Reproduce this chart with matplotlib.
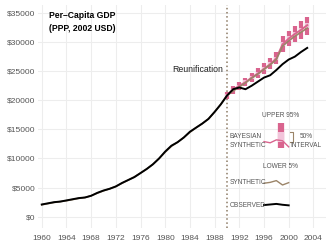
import matplotlib.pyplot as plt
import numpy as np

plt.rcParams['font.family'] = ['Liberation Sans', 'DejaVu Sans']

years = list(range(1960, 2004))
observed = [2.1, 2.3, 2.5, 2.6, 2.8, 3.0, 3.2, 3.3, 3.6, 4.1,
            4.5, 4.8, 5.2, 5.8, 6.3, 6.8, 7.5, 8.2, 9.0, 10.0,
            11.2, 12.2, 12.8, 13.6, 14.6, 15.3, 16.0, 16.8, 18.0, 19.3,
            20.8, 21.9, 22.2, 21.9, 22.5, 23.2, 23.9, 24.3, 25.2, 26.2,
            27.0, 27.5, 28.3, 29.0]
synthetic = [2.05, 2.25, 2.45, 2.6, 2.75, 2.95, 3.15, 3.3, 3.6, 4.05,
             4.45, 4.8, 5.2, 5.75, 6.3, 6.85, 7.5, 8.2, 9.0, 10.0,
             11.1, 12.1, 12.8, 13.6, 14.5, 15.3, 16.0, 16.8, 18.0, 19.3,
             20.8, 21.6, 22.3, 23.0, 23.8, 24.5, 25.3, 26.1, 27.0, 29.3,
             30.2, 31.0, 31.7, 32.4]

post_years = list(range(1990, 2004))
bayes_med = [20.9, 21.8, 22.5, 23.1, 23.9, 24.6, 25.4, 26.2, 27.2, 29.6,
             30.6, 31.4, 32.1, 32.9]
bayes_lo5 = [20.3, 21.1, 21.8, 22.4, 23.1, 23.8, 24.5, 25.3, 26.2, 28.3,
             29.3, 30.0, 30.6, 31.3]
bayes_hi95 = [21.5, 22.5, 23.2, 23.9, 24.7, 25.5, 26.4, 27.2, 28.3, 31.0,
              31.9, 32.8, 33.6, 34.3]
bayes_lo25 = [20.7, 21.6, 22.3, 22.9, 23.6, 24.4, 25.2, 26.0, 27.0, 29.3,
              30.2, 31.0, 31.7, 32.5]
bayes_hi75 = [21.1, 22.0, 22.7, 23.4, 24.2, 24.9, 25.7, 26.5, 27.5, 30.0,
              31.0, 31.8, 32.5, 33.3]

# legend samples
leg_x = [1996, 1997, 1998, 1999, 2000]
leg_bayes = [12.9, 12.7, 13.2, 13.05, 12.0]
leg_synth = [5.75, 5.9, 6.2, 5.45, 5.85]
leg_obs = [2.0, 2.1, 2.2, 2.05, 1.95]
leg_bar = [11.75, 12.9, 14.6, 16.05]  # 5%, 25%, 75%, 95%

pink = '#d9648e'
light_pink = '#f2c4da'
brown = '#9b8468'
grey = '#555555'

fig = plt.figure(figsize=(3.31, 2.5), dpi=100)
ax = fig.add_axes([0.115, 0.088, 0.87, 0.892])

k = lambda v: np.asarray(v) * 1000

ax.vlines(post_years, k(bayes_lo5), k(bayes_hi95), color=pink, lw=3.0, zorder=2)
ax.vlines(post_years, k(bayes_lo25), k(bayes_hi75), color=light_pink, lw=3.0, zorder=2)
ax.plot(post_years, k(bayes_med), color=pink, lw=1.4, zorder=3)
ax.plot(years, k(synthetic), color=brown, lw=1.2, zorder=4)
ax.plot(years, k(observed), color='black', lw=1.4, zorder=5)

ax.axvline(1990, color='#8c7a64', ls=(0, (1, 1.7)), lw=1.1, zorder=1)

# legend drawn in data space
ax.vlines(1998.7, k(leg_bar[0]), k(leg_bar[3]), color=pink, lw=4.5)
ax.vlines(1998.7, k(leg_bar[1]), k(leg_bar[2]), color=light_pink, lw=4.5)
ax.plot(leg_x, k(leg_bayes), color=pink, lw=1.0)
ax.plot(leg_x, k(leg_synth), color=brown, lw=1.0)
ax.plot(leg_x, k(leg_obs), color='black', lw=1.4)
small = dict(fontsize=4.7, color=grey)
ax.text(1990.4, 13000, 'BAYESIAN\nSYNTHETIC', va='center', ha='left', linespacing=1.4, **small)
ax.text(1990.4, 5850, 'SYNTHETIC', va='center', ha='left', **small)
ax.text(1990.4, 2000, 'OBSERVED', va='center', ha='left', **small)
ax.text(1998.7, 17400, 'UPPER 95%', va='center', ha='center', **small)
ax.text(1998.7, 8700, 'LOWER 5%', va='center', ha='center', **small)
ax.text(2002.8, 13000, '50%\nINTERVAL', va='center', ha='center', linespacing=1.4, **small)
ax.plot([2000.2, 2000.7, 2000.7, 2000.2], [k(leg_bar[2]), k(leg_bar[2]), k(leg_bar[1]), k(leg_bar[1])],
        color=brown, lw=0.8)

ax.text(1989.4, 25300, 'Reunification', ha='right', va='center', fontsize=6.3, color='#222222')
ax.text(1961.2, 35300, 'Per\u2013Capita GDP\n(PPP, 2002 USD)', ha='left', va='top',
        fontsize=6.2, fontweight='bold', linespacing=1.5)

ax.set_xlim(1959.4, 2006.05)
ax.set_ylim(-1940, 36370)
ax.set_xticks(range(1960, 2005, 4))
ax.set_yticks(range(0, 35001, 5000))
ax.set_yticklabels(['$%d' % v for v in range(0, 35001, 5000)])
ax.tick_params(length=0, labelsize=6, colors=grey, pad=5)
ax.tick_params(axis='y', pad=2)
ax.grid(color='#ededed', lw=0.8)
ax.set_axisbelow(True)
for s in ax.spines.values():
    s.set_visible(False)

plt.savefig('out.png', dpi=100)
